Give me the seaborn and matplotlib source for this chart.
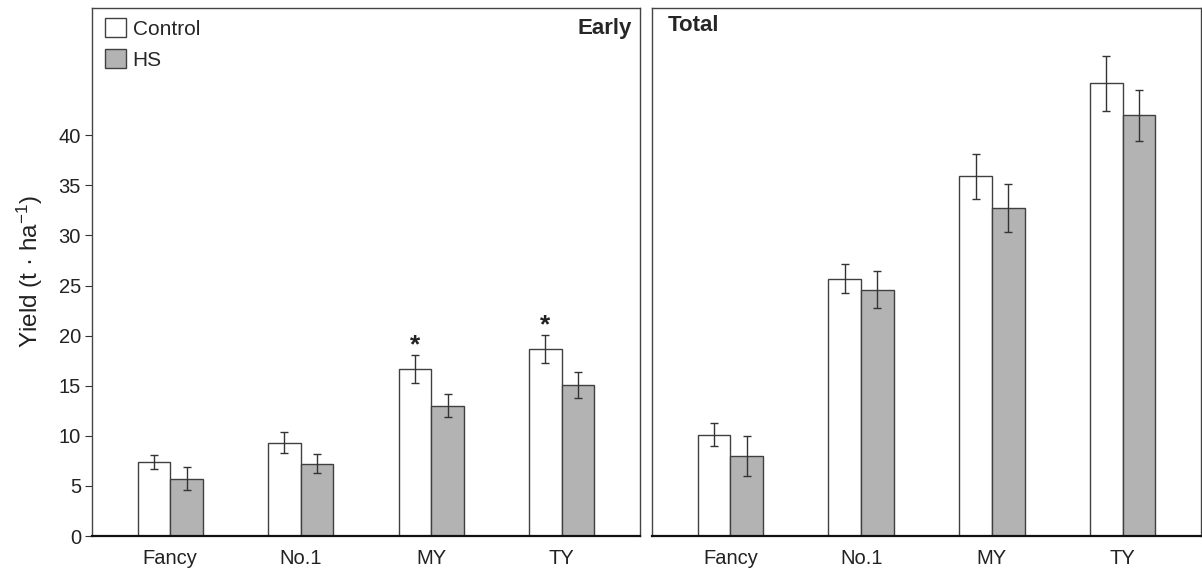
import matplotlib
matplotlib.use("Agg")
import matplotlib.pyplot as plt
import seaborn as sns
import pandas as pd
import numpy as np

categories = ["Fancy", "No.1", "MY", "TY"]
treatments = ["Control", "HS"]

early_control = [7.4, 9.3, 16.7, 18.7]
early_hs = [5.7, 7.2, 13.0, 15.1]
early_control_err = [0.7, 1.05, 1.4, 1.4]
early_hs_err = [1.15, 0.95, 1.15, 1.3]
early_control_sig = ["", "", "*", "*"]

total_control = [10.1, 25.7, 35.9, 45.2]
total_hs = [8.0, 24.6, 32.7, 42.0]
total_control_err = [1.15, 1.45, 2.25, 2.75]
total_hs_err = [2.0, 1.8, 2.4, 2.55]

yticks = [0, 5, 10, 15, 20, 25, 30, 35, 40]

sns.set_theme(style="white")
plt.rcParams["font.family"] = ["Liberation Sans", "DejaVu Sans"]
plt.rcParams["mathtext.default"] = "regular"

palette = {"Control": "white", "HS": "#b3b3b3"}


def make_df(c, h):
    return pd.DataFrame({
        "category": categories * 2,
        "treatment": ["Control"] * 4 + ["HS"] * 4,
        "value": list(c) + list(h),
    })


fig = plt.figure(figsize=(12.02, 5.69), dpi=100)
ax1 = fig.add_axes([92 / 1202, 1 - 536 / 569, 548 / 1202, 528 / 569])
ax2 = fig.add_axes([652 / 1202, 1 - 536 / 569, 549 / 1202, 528 / 569])

panels = [
    (ax1, early_control, early_hs, early_control_err, early_hs_err, "Early"),
    (ax2, total_control, total_hs, total_control_err, total_hs_err, "Total"),
]

for ax, c, h, ce, he, lab in panels:
    df = make_df(c, h)
    sns.barplot(data=df, x="category", y="value", hue="treatment",
                hue_order=treatments, order=categories, palette=palette,
                edgecolor="#404040", linewidth=1.0, width=0.5,
                errorbar=None, ax=ax, legend=False, saturation=1)
    for cont, errs in zip(ax.containers, [ce, he]):
        xs = [p.get_x() + p.get_width() / 2 for p in cont.patches]
        ys = [p.get_height() for p in cont.patches]
        ax.errorbar(xs, ys, yerr=errs, fmt="none", ecolor="#333333",
                    elinewidth=1.0, capsize=3, capthick=1.0, zorder=5)
    ax.set_xlim(-0.6, 3.6)
    ax.set_ylim(0, 52.7)
    ax.set_xlabel("")
    ax.set_ylabel("")
    ax.tick_params(axis="x", length=0, labelsize=14.5, pad=9, colors="#222222")
    for s in ["top", "right", "left"]:
        ax.spines[s].set_color("#444444")
        ax.spines[s].set_linewidth(1.0)
    ax.spines["bottom"].set_color("#111111")
    ax.spines["bottom"].set_linewidth(1.6)

# significance marks
cont = ax1.containers[0]
for p, e, s in zip(cont.patches, early_control_err, early_control_sig):
    if s:
        ax1.text(p.get_x() + p.get_width() / 2, p.get_height() + e + 0.2, s,
                 ha="center", va="baseline", fontsize=19, fontweight="bold",
                 color="#222222")

ax1.set_yticks(yticks)
ax1.set_yticklabels([str(t) for t in yticks])
ax1.tick_params(axis="y", left=True, length=5, width=0.8, color="#333333",
                labelsize=14.5, pad=3, labelcolor="#222222")
ax2.set_yticks([])

ax1.set_ylabel("Yield (t \u00b7 ha$^{-1}$)", fontsize=17.5, labelpad=10,
               color="#222222")

ax1.text(0.985, 0.962, "Early", transform=ax1.transAxes, ha="right",
         va="center", fontsize=16, fontweight="bold")
ax2.text(0.028, 0.966, "Total", transform=ax2.transAxes, ha="left",
         va="center", fontsize=16, fontweight="bold")

handles = [ax1.containers[0].patches[0], ax1.containers[1].patches[0]]
ax1.legend(handles, treatments, loc="upper left", bbox_to_anchor=(-0.004, 1.01),
           frameon=False, fontsize=15, handlelength=1.0, handleheight=1.0,
           handletextpad=0.3, labelspacing=0.5, borderaxespad=0.35)

fig.savefig("out.png", dpi=100)
